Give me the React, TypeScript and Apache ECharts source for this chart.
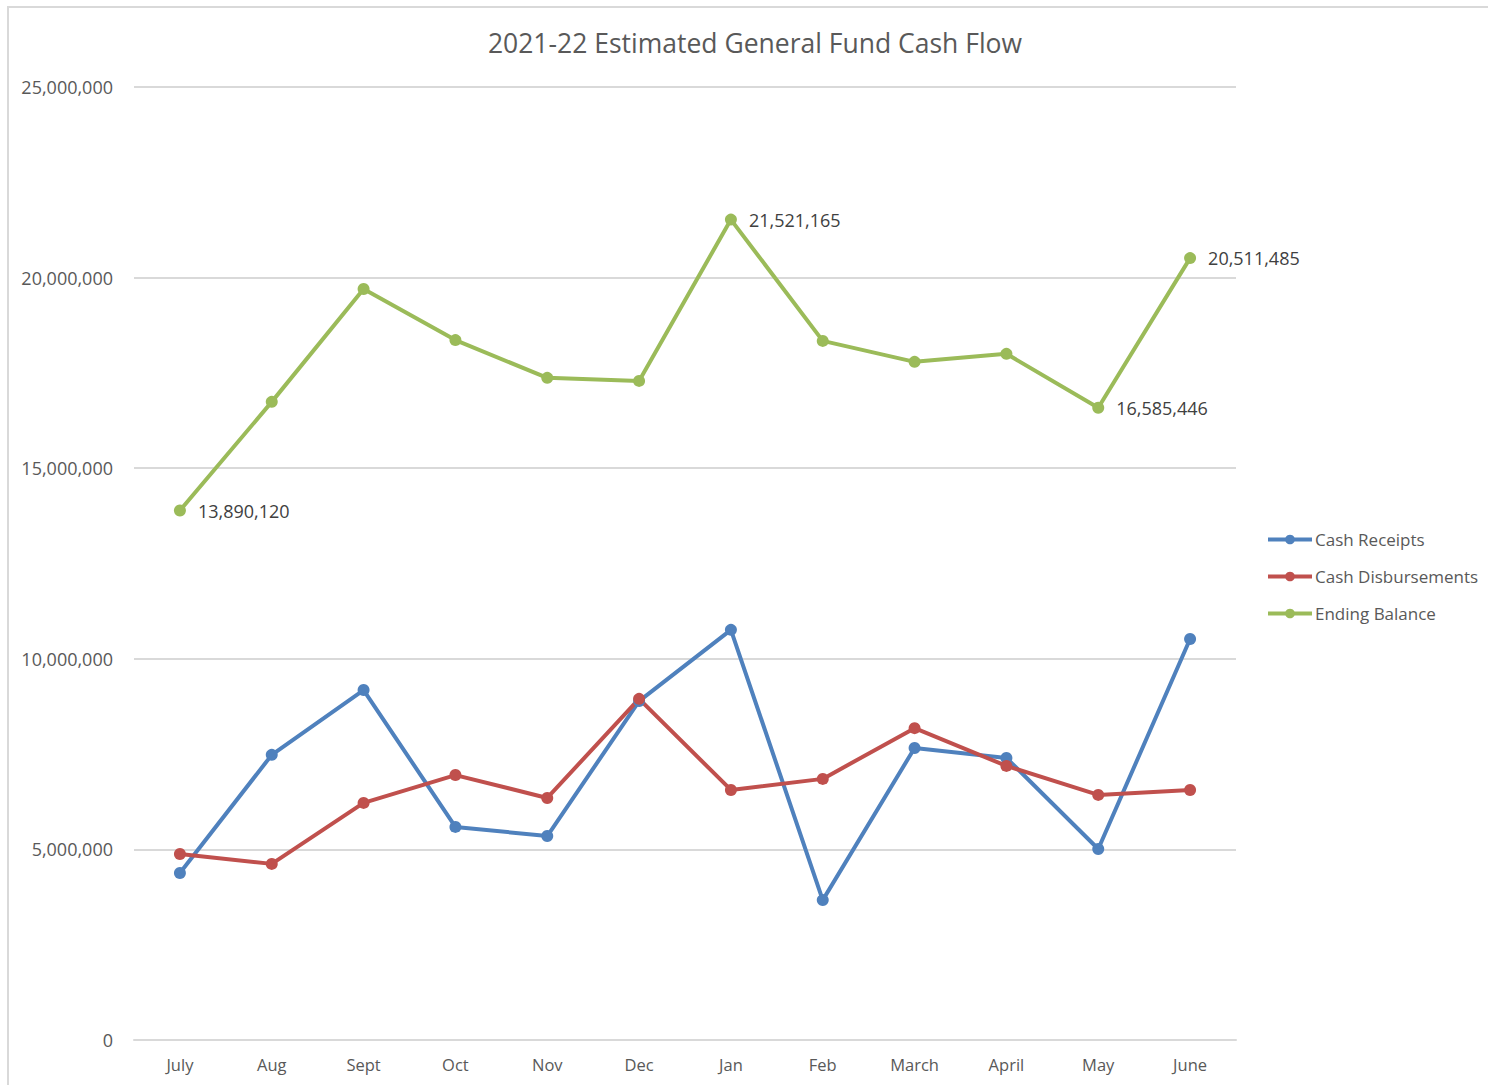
import React, { useEffect, useRef } from "react";
import * as echarts from "echarts";

const months = ["July", "Aug", "Sept", "Oct", "Nov", "Dec", "Jan", "Feb", "March", "April", "May", "June"];
const cashReceipts = [4380000, 7480000, 9180000, 5590000, 5350000, 8890000, 10760000, 3670000, 7660000, 7400000, 5010000, 10520000];
const cashDisbursements = [4880000, 4620000, 6220000, 6950000, 6350000, 8950000, 6560000, 6850000, 8180000, 7190000, 6430000, 6560000];
const endingBalance = [13890120, 16740000, 19700000, 18360000, 17370000, 17290000, 21521165, 18340000, 17790000, 18000000, 16585446, 20511485];
const labeledPoints = [0, 6, 10, 11];
const yTicks = [0, 5000000, 10000000, 15000000, 20000000, 25000000];

const FONT = "'Open Sans', 'Liberation Sans', sans-serif";
const fmt = (v: number) => v.toLocaleString("en-US");

export default function App() {
  const ref = useRef<HTMLDivElement>(null);
  useEffect(() => {
    if (!ref.current) return;
    const chart = echarts.init(ref.current, undefined, { renderer: "svg" });
    const mk = (name: string, data: number[], color: string, labels: boolean) => ({
      name,
      type: "line",
      data: data.map((v, i) =>
        labels && labeledPoints.includes(i)
          ? { value: v, label: { show: true, position: "right", distance: 12, formatter: (p: any) => fmt(p.value), color: "#404040", fontSize: 18, fontFamily: FONT } }
          : v
      ),
      symbol: "circle",
      symbolSize: 12,
      lineStyle: { width: 4, color },
      itemStyle: { color },
      label: { show: false },
    });
    chart.setOption({
      animation: false,
      backgroundColor: "#ffffff",
      title: {
        text: "2021-22 Estimated General Fund Cash Flow",
        left: 750,
        textAlign: "center",
        top: 24,
        textStyle: { fontFamily: FONT, fontSize: 26.5, fontWeight: "normal", color: "#595959" },
      },
      graphic: [
        {
          type: "rect",
          shape: { x: 8, y: 7, width: 1600, height: 1200 },
          style: { fill: "none", stroke: "#d9d9d9", lineWidth: 2 },
          silent: true,
        },
      ],
      legend: {
        orient: "vertical",
        left: 1261,
        top: 526,
        itemWidth: 44,
        itemHeight: 12,
        itemGap: 20,
        lineStyle: { width: 4 },
        textStyle: { fontFamily: FONT, fontSize: 17, color: "#595959", padding: [0, 0, 0, -2] },
        data: ["Cash Receipts", "Cash Disbursements", "Ending Balance"],
      },
      grid: { left: 134, right: 252, top: 87, bottom: 45, containLabel: false },
      xAxis: {
        type: "category",
        data: months,
        boundaryGap: true,
        axisLine: { show: true, lineStyle: { color: "#d9d9d9", width: 2 } },
        axisTick: { show: false },
        axisLabel: { fontFamily: FONT, fontSize: 16.5, color: "#595959", margin: 16 },
      },
      yAxis: {
        type: "value",
        min: 0,
        max: 25000000,
        interval: 5000000,
        axisLine: { show: false },
        axisTick: { show: false },
        splitLine: { lineStyle: { color: "#d9d9d9", width: 2 } },
        axisLabel: {
          fontFamily: FONT,
          fontSize: 18,
          color: "#595959",
          margin: 21,
          formatter: (v: number) => (yTicks.includes(v) ? fmt(v) : ""),
        },
      },
      series: [
        mk("Cash Receipts", cashReceipts, "#4f81bd", false),
        mk("Cash Disbursements", cashDisbursements, "#c0504d", false),
        mk("Ending Balance", endingBalance, "#9bbb59", true),
      ],
    });
    return () => chart.dispose();
  }, []);
  return (
    <div
      ref={ref}
      style={{ position: "absolute", left: 0, top: 0, width: 1488, height: 1085, background: "#fff" }}
    />
  );
}
